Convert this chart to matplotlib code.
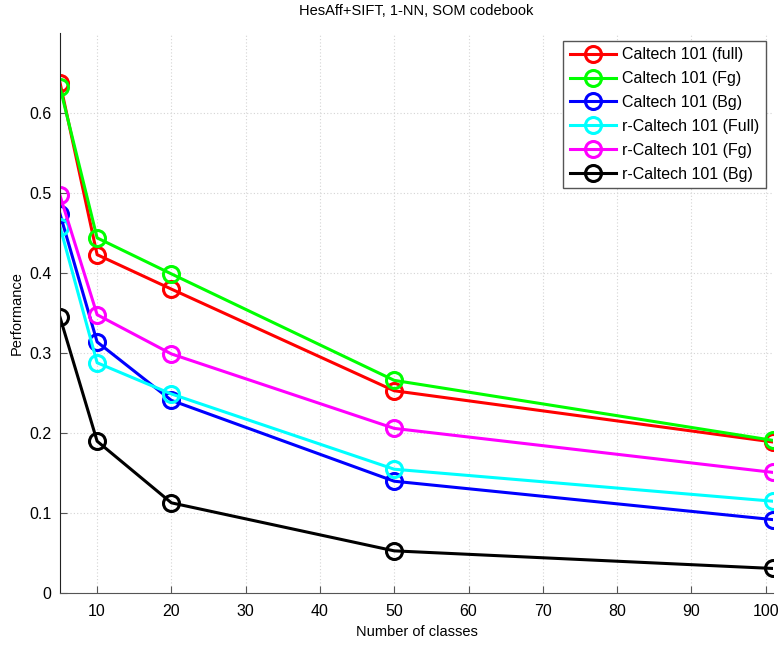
import matplotlib.pyplot as plt
import matplotlib as mpl

classes = [5, 10, 20, 50, 101]
caltech_full = [0.638, 0.423, 0.380, 0.253, 0.189]
caltech_fg = [0.632, 0.444, 0.399, 0.266, 0.191]
caltech_bg = [0.474, 0.314, 0.241, 0.140, 0.092]
r_caltech_full = [0.458, 0.288, 0.249, 0.155, 0.115]
r_caltech_fg = [0.497, 0.348, 0.299, 0.206, 0.151]
r_caltech_bg = [0.345, 0.190, 0.113, 0.053, 0.031]

series = [
    ("Caltech 101 (full)", caltech_full, "#ff0000"),
    ("Caltech 101 (Fg)", caltech_fg, "#00ff00"),
    ("Caltech 101 (Bg)", caltech_bg, "#0000ff"),
    ("r-Caltech 101 (Full)", r_caltech_full, "#00ffff"),
    ("r-Caltech 101 (Fg)", r_caltech_fg, "#ff00ff"),
    ("r-Caltech 101 (Bg)", r_caltech_bg, "#000000"),
]

xticks = [10, 20, 30, 40, 50, 60, 70, 80, 90, 100]
yticks = [0, 0.1, 0.2, 0.3, 0.4, 0.5, 0.6]
ytick_labels = ["0", "0.1", "0.2", "0.3", "0.4", "0.5", "0.6"]

mpl.rcParams['font.family'] = ['Liberation Sans', 'DejaVu Sans']

fig = plt.figure(figsize=(7.81, 6.46), dpi=100)
ax = fig.add_axes([0.0768, 0.0816, 0.913, 0.8674])

for label, vals, color in series:
    ax.plot(classes, vals, color=color, linewidth=2.2, marker="o",
            markersize=11.5, markerfacecolor="none", markeredgewidth=2.2,
            label=label)

ax.set_xlim(5, 101)
ax.set_ylim(0, 0.7)
ax.set_xticks(xticks)
ax.set_yticks(yticks)
ax.set_yticklabels(ytick_labels)
ax.tick_params(axis="both", direction="in", length=5, labelsize=11.5, color="#555555")
ax.tick_params(axis="x", pad=8)
ax.tick_params(axis="y", pad=6)
ax.grid(True, linestyle=(0, (1, 2)), color="#d4d4d4", linewidth=0.8)
ax.set_axisbelow(True)
ax.spines["top"].set_visible(False)
ax.spines["right"].set_visible(False)
ax.spines["left"].set_color("#222222")
ax.spines["bottom"].set_color("#555555")

ax.set_xlabel("Number of classes", fontsize=10.5)
ax.set_ylabel("Performance", fontsize=10.5)
ax.set_title("HesAff+SIFT, 1-NN, SOM codebook", fontsize=10.5, pad=13)

leg = ax.legend(loc="upper right", fontsize=11.5, fancybox=False, framealpha=1,
                edgecolor="#555555", handlelength=2.9, handletextpad=0.4,
                borderpad=0.4, labelspacing=0.56, borderaxespad=0,
                bbox_to_anchor=(0.99, 0.986))
leg.get_frame().set_linewidth(1.0)

plt.savefig("out.png", dpi=100)
